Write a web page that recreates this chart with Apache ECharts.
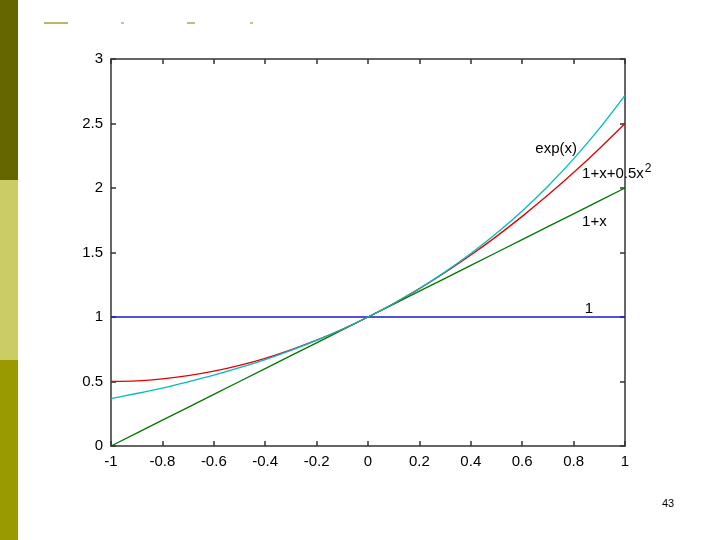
<!DOCTYPE html>
<html>
<head>
<meta charset="utf-8">
<script src="https://cdn.jsdelivr.net/npm/echarts@6/dist/echarts.min.js"></script>
<style>
  html, body { margin: 0; padding: 0; background: #fff; }
  #main { width: 720px; height: 540px; }
</style>
</head>
<body>
<div id="main"></div>
<script>
// x samples
var xs = [-1, -0.9, -0.8, -0.7, -0.6, -0.5, -0.4, -0.3, -0.2, -0.1, 0,
  0.1, 0.2, 0.3, 0.4, 0.5, 0.6, 0.7, 0.8, 0.9, 1];
var expVals = [0.368, 0.407, 0.449, 0.497, 0.549, 0.607, 0.670, 0.741, 0.819, 0.905, 1,
  1.105, 1.221, 1.350, 1.492, 1.649, 1.822, 2.014, 2.226, 2.460, 2.718];
var quadVals = [0.5, 0.505, 0.52, 0.545, 0.58, 0.625, 0.68, 0.745, 0.82, 0.905, 1,
  1.105, 1.22, 1.345, 1.48, 1.625, 1.78, 1.945, 2.12, 2.305, 2.5];
var linVals = [0, 0.1, 0.2, 0.3, 0.4, 0.5, 0.6, 0.7, 0.8, 0.9, 1,
  1.1, 1.2, 1.3, 1.4, 1.5, 1.6, 1.7, 1.8, 1.9, 2];
var oneX = [-1, 1];
var oneVals = [1, 1];

// curve labels (data coords)
var labelTexts = ['exp(x)', '1+x+0.5x{sup|2}', '1+x', '1'];
var labelX = [0.732, 0.833, 0.833, 0.86];
var labelY = [2.30, 2.11, 1.74, 1.06];
var labelAlign = ['center', 'left', 'left', 'center'];

function pairs(x, y) {
  var out = [];
  for (var i = 0; i < x.length; i++) out.push([x[i], y[i]]);
  return out;
}

var chart = echarts.init(document.getElementById('main'));

var font = 'Liberation Sans, Arial, sans-serif';
var axisLine = { show: true, onZero: false, lineStyle: { color: '#333', width: 1.5 } };
var axisTick = { show: true, inside: true, length: 5, lineStyle: { color: '#333', width: 1.5 } };
var labelStyle = { color: '#000', fontSize: 15, fontFamily: font };

function lineSeries(data, color, smooth) {
  return {
    type: 'line', data: data, showSymbol: false, symbol: 'none', smooth: smooth,
    lineStyle: { color: color, width: 1.3 }, animation: false, z: 3
  };
}

chart.setOption({
  backgroundColor: '#fff',
  animation: false,
  grid: { left: 111, right: 95, top: 59, bottom: 94 },
  xAxis: [{
    type: 'value', min: -1, max: 1, interval: 0.2,
    axisLine: axisLine, axisTick: axisTick, splitLine: { show: false },
    axisLabel: Object.assign({ margin: 8 }, labelStyle)
  }, {
    type: 'value', position: 'top', min: -1, max: 1, interval: 0.2,
    axisLine: axisLine, axisTick: axisTick, splitLine: { show: false },
    axisLabel: { show: false }
  }],
  yAxis: [{
    type: 'value', min: 0, max: 3, interval: 0.5,
    axisLine: axisLine, axisTick: axisTick, splitLine: { show: false },
    axisLabel: Object.assign({ margin: 8 }, labelStyle)
  }, {
    type: 'value', position: 'right', min: 0, max: 3, interval: 0.5,
    axisLine: axisLine, axisTick: axisTick, splitLine: { show: false },
    axisLabel: { show: false }
  }],
  series: [
    lineSeries(pairs(oneX, oneVals), '#1a1acc', false),
    lineSeries(pairs(xs, linVals), '#007700', false),
    lineSeries(pairs(xs, quadVals), '#e60000', 0.3),
    lineSeries(pairs(xs, expVals), '#00bcbc', 0.3)
  ]
});

// slide decoration + curve labels
var graphics = [
  { type: 'rect', shape: { x: 0, y: 0, width: 18, height: 180 }, style: { fill: '#666600' } },
  { type: 'rect', shape: { x: 0, y: 180, width: 18, height: 180 }, style: { fill: '#cccc66' } },
  { type: 'rect', shape: { x: 0, y: 360, width: 18, height: 180 }, style: { fill: '#999900' } },
  { type: 'rect', shape: { x: 44, y: 22, width: 24, height: 2 }, style: { fill: '#b8b860' } },
  { type: 'rect', shape: { x: 121, y: 22, width: 3, height: 2 }, style: { fill: '#c8c890' } },
  { type: 'rect', shape: { x: 187, y: 22, width: 8, height: 2 }, style: { fill: '#c0c080' } },
  { type: 'rect', shape: { x: 250, y: 22, width: 3, height: 2 }, style: { fill: '#c8c890' } },
  { type: 'text', left: 662, top: 498, style: { text: '43', fill: '#000', fontSize: 11, fontFamily: font } }
];
for (var i = 0; i < labelTexts.length; i++) {
  var p = chart.convertToPixel({ xAxisIndex: 0, yAxisIndex: 0 }, [labelX[i], labelY[i]]);
  graphics.push({
    type: 'text', x: p[0], y: p[1], z: 10,
    style: {
      text: labelTexts[i], fill: '#000', fontSize: 15, fontFamily: font,
      align: labelAlign[i], verticalAlign: 'middle',
      rich: { sup: { fontSize: 12, fontFamily: font, verticalAlign: 'top', padding: [0, 0, 10, 1], fill: '#000' } }
    }
  });
}
chart.setOption({ graphic: graphics });
</script>
</body>
</html>
